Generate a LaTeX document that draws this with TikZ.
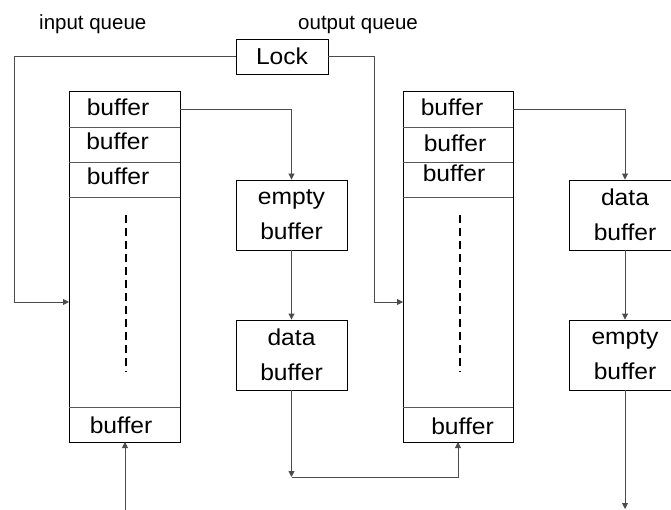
\documentclass[tikz,border=0pt]{standalone}
\usepackage{fontspec}
\setmainfont{Liberation Sans}
\newfontfamily\boxfont[FakeStretch=1.07]{Liberation Sans}
\usetikzlibrary{arrows.meta}

\tikzset{
  box/.style={draw=black, line width=0.9pt, inner sep=0pt, align=center,
    font=\boxfont\fontsize{23}{35}\selectfont},
  celltext/.style={anchor=base, inner sep=0pt, font=\boxfont\fontsize{23}{26}\selectfont},
  heading/.style={anchor=base west, inner sep=0pt, font=\fontsize{20.5}{24}\selectfont},
  sep/.style={draw=black!65, line width=0.9pt},
  conn/.style={draw=black!70, line width=0.9pt},
  tip/.style={-{Triangle[length=6pt,width=6pt]}},
  dots/.style={draw=black, line width=1.8pt, dash pattern=on 8pt off 5pt},
}

\begin{document}
\begin{tikzpicture}[x=1pt, y=-1pt]
  \useasboundingbox (0,0) rectangle (671,510);
  \clip (0,0) rectangle (671,510);

  % headings
  \node[heading] (hin)  at (39,29.3)  {input queue};
  \node[heading] (hout) at (298,29.3) {output queue};

  % lock
  \node[box, minimum width=92pt, minimum height=35pt] (lock) at (282,56.5) {Lock};

  % input queue
  \node[box, minimum width=111pt, minimum height=351pt] (qin) at (124.5,266.5) {};
  \draw[sep] (69,127) -- (180,127) (69,162) -- (180,162) (69,197) -- (180,197) (69,407) -- (180,407);
  \node[celltext] (qin1) at (118,116) {buffer};
  \node[celltext] (qin2) at (117.5,150) {buffer};
  \node[celltext] (qin3) at (118,185) {buffer};
  \node[celltext] (qinN) at (121,433) {buffer};
  \coordinate (qinA) at (126,215);
  \coordinate (qinB) at (126,372);
  \draw[dots] (qinA) -- (qinB);

  % output queue
  \node[box, minimum width=110pt, minimum height=351pt] (qout) at (458,266.5) {};
  \draw[sep] (403,127) -- (513,127) (403,162) -- (513,162) (403,197) -- (513,197) (403,407) -- (513,407);
  \node[celltext] (qout1) at (452,116) {buffer};
  \node[celltext] (qout2) at (455,152) {buffer};
  \node[celltext] (qout3) at (454,182) {buffer};
  \node[celltext] (qoutN) at (462.5,434) {buffer};
  \coordinate (qoutA) at (460,215);
  \coordinate (qoutB) at (460,372);
  \draw[dots] (qoutA) -- (qoutB);

  % buffer boxes
  \node[box, minimum width=111pt, minimum height=70pt] (eb1) at (291.5,215) {empty\\buffer};
  \node[box, minimum width=111pt, minimum height=70pt] (db1) at (291.5,355) {data\\buffer};
  \node[box, minimum width=111pt, minimum height=70pt] (db2) at (625,215) {data\\buffer};
  \node[box, minimum width=111pt, minimum height=70pt] (eb2) at (625,355) {empty\\buffer};

  % connection points
  \coordinate (inEntry)  at (69,302);
  \coordinate (outEntry) at (403,302);
  \coordinate (inHead)   at (180,109);
  \coordinate (outHead)  at (513,109);
  \coordinate (inTail)   at (125,442);
  \coordinate (inSrc)    at (125,510);
  \coordinate (outTail)  at (458,442);
  \coordinate (turn)     at (291.5,477);
  \coordinate (sink)     at (625,509);

  % lock feedback lines
  \draw[conn, tip] (lock.west) -| (14,302) -- (inEntry);
  \draw[conn, tip] (lock.east) -| (374,302) -- (outEntry);

  % input side flow
  \draw[conn, tip] (inHead) -| (eb1.north);
  \draw[conn, tip] (eb1.south) -- (db1.north);
  \draw[conn, tip] (db1.south) -- (turn);
  \draw[conn, tip] (turn) -| (outTail);
  \draw[conn, tip] (inSrc) -- (inTail);

  % output side flow
  \draw[conn, tip] (outHead) -| (db2.north);
  \draw[conn, tip] (db2.south) -- (eb2.north);
  \draw[conn, tip] (eb2.south) -- (sink);
\end{tikzpicture}
\end{document}
